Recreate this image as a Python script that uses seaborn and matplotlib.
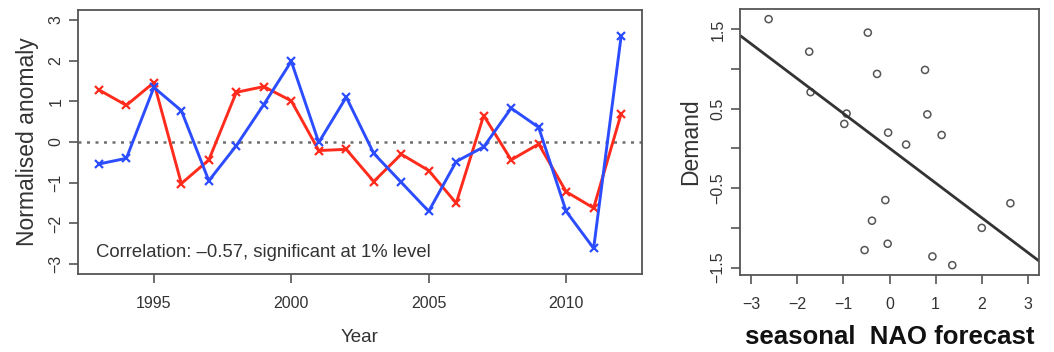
import matplotlib
matplotlib.use("Agg")
import matplotlib.pyplot as plt
import seaborn as sns
import pandas as pd

# Annual series (normalised anomalies)
years = list(range(1993, 2013))
nao_forecast = [-0.54, -0.40, 1.34, 0.77, -0.95, -0.09, 0.92, 1.98, -0.01, 1.10,
                -0.28, -0.99, -1.70, -0.48, -0.12, 0.83, 0.36, -1.70, -2.61, 2.59]
demand_anomaly = [1.28, 0.90, 1.46, -1.02, -0.44, 1.22, 1.36, 1.01, -0.21, -0.18,
                  -0.97, -0.30, -0.70, -1.50, 0.65, -0.44, -0.05, -1.22, -1.62, 0.69]

# Scatter: seasonal NAO forecast vs demand
scatter_nao = [-0.54, -0.38, 1.36, 0.77, -0.93, -0.04, 0.93, 2.00, -0.03, 1.13,
               -0.27, -0.98, -1.71, -0.47, -0.09, 0.82, 0.36, -1.74, -2.62, 2.62]
scatter_demand = [-1.28, -0.91, -1.47, 0.99, 0.44, -1.20, -1.36, -1.00, 0.20, 0.17,
                  0.94, 0.31, 0.71, 1.46, -0.65, 0.43, 0.05, 1.22, 1.63, -0.69]

corr_text = "Correlation: \u20130.57, significant at 1% level"
year_ticks = [1995, 2000, 2005, 2010]
anom_ticks = [-3, -2, -1, 0, 1, 2, 3]
nao_ticks = [-3, -2, -1, 0, 1, 2, 3]
demand_ticks = [-1.5, -1.0, -0.5, 0.0, 0.5, 1.0, 1.5]
demand_ticklabels = ["\u22121.5", "", "\u22120.5", "", "0.5", "", "1.5"]

sns.set_style("white")
plt.rcParams["font.family"] = ["Liberation Sans", "DejaVu Sans"]

TXT = "#333333"
FRAME = "#555555"
BLUE = "#2b4cff"
RED = "#ff2b1c"

fig = plt.figure(figsize=(10.54, 3.52), dpi=100)
ax1 = fig.add_axes([78 / 1054, 1 - 274 / 352, 564 / 1054, 264 / 352])
ax2 = fig.add_axes([740 / 1054, 1 - 275 / 352, 299 / 1054, 265.7 / 352])

ts = pd.DataFrame({"year": years, "nao": nao_forecast, "demand": demand_anomaly})

# Left panel: time series
ax1.axhline(0, color="#6f6f6f", lw=1.8, ls=(0, (1.2, 2.2)), zorder=1)
sns.lineplot(data=ts, x="year", y="demand", ax=ax1, color=RED, lw=2.1,
             marker="x", markersize=5.5, markeredgewidth=1.6,
             markeredgecolor=RED, zorder=3)
sns.lineplot(data=ts, x="year", y="nao", ax=ax1, color=BLUE, lw=2.1,
             marker="x", markersize=5.5, markeredgewidth=1.6,
             markeredgecolor=BLUE, zorder=4)
ax1.set_xlim(1992.24, 2012.76)
ax1.set_ylim(-3.24, 3.24)
ax1.set_xticks(year_ticks)
ax1.set_yticks(anom_ticks)
ax1.set_yticklabels([str(t).replace("-", "\u2212") for t in anom_ticks])
ax1.set_xlabel("Year", fontsize=13.5, color=TXT, labelpad=13)
ax1.set_ylabel("Normalised anomaly", fontsize=16.5, color=TXT, labelpad=7)
ax1.text(0.032, 0.08, corr_text, transform=ax1.transAxes, fontsize=13.3,
         color=TXT, ha="left", va="center")

# Right panel: scatter with least-squares line
ax2.set_xlim(-3.24, 3.24)
ax2.set_ylim(-1.594, 1.754)
sns.regplot(x=scatter_nao, y=scatter_demand, ax=ax2, ci=None, truncate=False,
            color="#555555",
            scatter_kws=dict(facecolors="none", s=26, linewidths=1.1, alpha=1),
            line_kws=dict(color="#333333", lw=2.0))
ax2.set_xlim(-3.24, 3.24)
ax2.set_ylim(-1.594, 1.754)
ax2.set_xticks(nao_ticks)
ax2.set_xticklabels([str(t).replace("-", "\u2212") for t in nao_ticks])
ax2.set_yticks(demand_ticks)
ax2.set_yticklabels(demand_ticklabels)
ax2.set_xlabel("seasonal  NAO forecast", fontsize=18.5, fontweight="bold",
               color="#111111", labelpad=10)
ax2.set_ylabel("Demand", fontsize=16.5, color=TXT, labelpad=6)

for ax in (ax1, ax2):
    for sp in ax.spines.values():
        sp.set_visible(True)
        sp.set_color(FRAME)
        sp.set_linewidth(1.3)
    ax.tick_params(axis="both", which="both", direction="out", length=6.5,
                   width=1.2, color=FRAME, labelsize=11.5, labelcolor=TXT,
                   bottom=True, left=True)
    ax.tick_params(axis="x", pad=9)
    ax.tick_params(axis="y", pad=4, labelrotation=90)
    for lab in ax.get_yticklabels():
        lab.set_va("center")
    ax.grid(False)

fig.savefig("out.png", dpi=100, facecolor="white")
